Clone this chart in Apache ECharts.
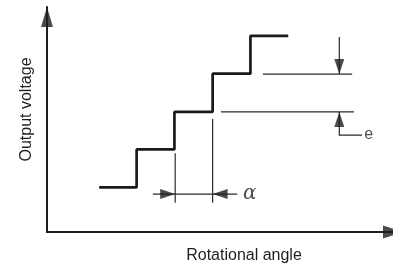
<!DOCTYPE html>
<html>
<head>
<meta charset="utf-8">
<script src="https://cdn.jsdelivr.net/npm/echarts@6/dist/echarts.min.js"></script>
<style>
    html, body { margin: 0; padding: 0; background: #fff; }
    #chart { width: 393px; height: 270px; }
</style>
</head>
<body>
<div id="chart"></div>
<script>
// axis ranges, one unit = one step of the staircase
var xMax = 9.15;
var yMax = 5.94;

// staircase: x of each edge and the level that holds until the next edge
var stepEdges = [1.38, 2.37, 3.37, 4.38, 5.38, 6.38];
var stepLevels = [1.18, 2.18, 3.17, 4.18, 5.18, 5.18];

// thin guide lines (alpha and e dimensions)
var guideLines = [
    [[3.39, 2.08], [3.39, 0.77]],
    [[4.38, 2.98], [4.38, 0.77]],
    [[2.80, 1.00], [5.03, 1.00]],
    [[5.71, 4.17], [8.07, 4.17]],
    [[4.60, 3.17], [8.12, 3.17]],
    [[7.73, 5.15], [7.73, 4.17]],
    [[7.73, 3.17], [7.73, 2.56], [8.33, 2.56]]
];

// arrow tips [x, y, direction]
var arrowTips = [
    [3.39, 1.00, 'right'],
    [4.38, 1.00, 'left'],
    [7.73, 4.17, 'down'],
    [7.73, 3.17, 'up']
];

// text marks
var markNames = ['α', 'e'];
var markPos = [[5.36, 1.00], [8.51, 2.56]];

var ink = '#1e1e1e';
var arrowPath = {
    up: 'path://M5,0L10,20L0,20Z',
    down: 'path://M0,0L10,0L5,20Z',
    right: 'path://M0,0L20,5L0,10Z',
    left: 'path://M20,0L20,10L0,5Z'
};

// 箭头: 尖端落在数据点上
function arrowItem(x, y, dir, len, wid, shift) {
    var horiz = dir === 'left' || dir === 'right';
    var off = shift === undefined ? len / 2 : shift;
    var offset = {
        right: [-off, 0], left: [off, 0],
        down: [0, -off], up: [0, off]
    }[dir];
    return {
        value: [x, y],
        symbol: arrowPath[dir],
        symbolSize: horiz ? [len, wid] : [wid, len],
        symbolOffset: offset
    };
}

var arrowData = arrowTips.map(function (a) {
    return arrowItem(a[0], a[1], a[2], 15, 10);
});
// axis arrows
arrowData.push(arrowItem(0, yMax, 'up', 20, 12));
arrowData.push(arrowItem(xMax, 0, 'right', 20, 13, 0));

var textStyles = [
    { fontFamily: 'DejaVu Serif', fontStyle: 'italic', fontSize: 20 },
    { fontFamily: 'Liberation Sans', fontSize: 16 }
];

var axisCommon = {
    type: 'value',
    min: 0,
    axisLine: { show: true, onZero: false, lineStyle: { color: ink, width: 2 } },
    axisTick: { show: false },
    axisLabel: { show: false },
    splitLine: { show: false },
    nameLocation: 'middle'
};

var mychart = echarts.init(document.getElementById('chart'), null, { renderer: 'canvas' });
var option = {
    animation: false,
    grid: { left: 47, right: 0, top: 7, bottom: 38 },
    xAxis: Object.assign({}, axisCommon, {
        max: xMax,
        name: 'Rotational angle',
        nameGap: 16,
        nameTextStyle: {
            color: ink, fontFamily: 'Liberation Sans', fontSize: 16,
            padding: [0, 0, 0, 48]
        }
    }),
    yAxis: Object.assign({}, axisCommon, {
        max: yMax,
        name: 'Output voltage',
        nameGap: 12,
        nameTextStyle: {
            color: ink, fontFamily: 'Liberation Sans', fontSize: 16,
            padding: [0, 0, 0, 20]
        }
    }),
    series: [{
        type: 'line',
        step: 'end',
        symbol: 'none',
        lineStyle: { color: '#1a1a1a', width: 2.7 },
        data: stepEdges.map(function (x, i) {
            return [x, stepLevels[i]];
        })
    }, {
        type: 'lines',
        coordinateSystem: 'cartesian2d',
        polyline: true,
        silent: true,
        lineStyle: { color: '#2a2a2a', width: 1.2, opacity: 1 },
        data: guideLines.map(function (c) {
            return { coords: c };
        })
    }, {
        type: 'scatter',
        clip: false,
        silent: true,
        itemStyle: { color: ink },
        data: arrowData
    }, {
        type: 'scatter',
        clip: false,
        silent: true,
        symbolSize: 1,
        itemStyle: { color: 'transparent' },
        data: markNames.map(function (n, i) {
            return {
                name: n,
                value: markPos[i],
                label: Object.assign({
                    show: true, position: 'inside', formatter: '{b}', color: ink
                }, textStyles[i])
            };
        })
    }]
};
mychart.setOption(option);
</script>
</body>
</html>
